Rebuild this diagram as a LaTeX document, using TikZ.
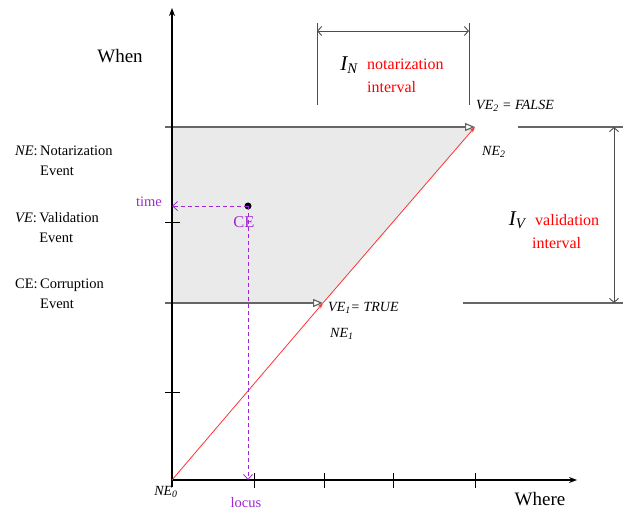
\documentclass[tikz,border=0pt]{standalone}
\usepackage{fontspec}
\setmainfont{Liberation Serif}
\usetikzlibrary{arrows.meta, positioning}

\definecolor{cepurple}{RGB}{160,40,210}
\definecolor{regiongray}{RGB}{234,234,234}

\begin{document}
\begin{tikzpicture}[
    x=1pt, y=-1pt,
    >=Stealth,
    axis/.style={draw=black, line width=1.3pt, -{Stealth[length=8pt, width=6pt]}},
    tickmark/.style={draw=black, line width=0.8pt},
    level/.style={draw=black!60, line width=1.2pt},
    opentip/.style={-{Triangle[open, length=10pt, width=8pt, fill=white]}},
    dim/.style={draw=black!70, line width=0.9pt, {Straight Barb[length=4pt, width=9pt]}-{Straight Barb[length=4pt, width=9pt]}},
    trace/.style={draw=red!80, line width=0.8pt, -{Stealth[length=6pt, width=4pt]}},
    probe/.style={draw=cepurple, line width=0.8pt, dash pattern=on 4pt off 3pt, -{Straight Barb[length=5pt, width=9pt]}},
    lbl/.style={font=\fontsize{14}{16}\selectfont\itshape, inner sep=0pt, anchor=west},
    legend/.style={font=\fontsize{14.5}{20}\selectfont, inner sep=0pt, anchor=north west},
    note/.style={font=\fontsize{16}{23}\selectfont, text=red, align=left, inner sep=0pt, anchor=west},
    big/.style={font=\fontsize{21}{24}\selectfont\itshape, inner sep=0pt}
]
\useasboundingbox (0,0) rectangle (623,510);

% Points
\coordinate (ne0) at (172,480);
\coordinate (ne1) at (323,303);
\coordinate (ne2) at (475,127);
\coordinate (ce) at (248,206);
\coordinate (yaxis) at (172,8);
\coordinate (xaxis) at (577,480);

% Region between the two levels
\fill[regiongray] (172,127) -- (ne2) -- (ne1) -- (172,303) -- cycle;

% Levels
\draw[level, opentip] (165,127) -- (ne2);
\draw[level, opentip] (165,303) -- (ne1);
\draw[level] (518,127) -- (623,127);
\draw[level] (463,303) -- (623,303);

% Axes
\draw[axis] (172,487) -- (yaxis);
\draw[axis] (ne0) -- (xaxis);
\foreach \y in {222,392} \draw[tickmark] (165,\y) -- (180,\y);
\foreach \x in {254,324,393,475} \draw[tickmark] (\x,473) -- (\x,488);

% Notarization path
\draw[trace] (ne0) -- (ne1);
\draw[trace] (ne1) -- (ne2);

% Corruption event
\fill (ce) circle (3.5pt);
\draw[probe] (ce) -- (ce -| ne0);
\draw[probe] (ce) -- (ce |- ne0);

% Intervals
\draw[dim, -] (317,23) -- (317,105);
\draw[dim, -] (469,23) -- (469,105);
\draw[dim] (317,31) -- (469,31);
\draw[dim] (614,127) -- (614,303);

% Labels
\node[font=\fontsize{19}{22}\selectfont] (when) at (120,56) {When};
\node[font=\fontsize{19}{22}\selectfont] (where) at (540,499) {Where};
\node[lbl, anchor=center] (ne0lbl) at (166,492) {NE\textsubscript{0}};
\node[lbl] (ve1) at (328,308) {VE\textsubscript{1}= TRUE};
\node[lbl] (ne1lbl) at (330,334) {NE\textsubscript{1}};
\node[lbl] (ve2) at (476,106) {VE\textsubscript{2} = FALSE};
\node[lbl] (ne2lbl) at (482,152) {NE\textsubscript{2}};
\node[font=\fontsize{14.5}{16}\selectfont, text=cepurple] (time) at (149,202) {time};
\node[font=\fontsize{14.5}{16}\selectfont, text=cepurple] (locus) at (246,503) {locus};
\node[font=\fontsize{16.5}{18}\selectfont, text=cepurple] (celbl) at (244,222) {CE};

\node[big] (in) at (349,65) {I\textsubscript{N}};
\node[note] (inote) at (367,76) {notarization\\interval};
\node[big] (iv) at (517,220) {I\textsubscript{V}};
\node[note] (ivnote) at (532,232) {\hspace*{3pt}validation\\interval};

% Legend
\node[legend] (legne) at (15,141) {\begin{tabular}{@{}r@{\,}l@{}}\textit{NE}: & Notarization\\ & Event\end{tabular}};
\node[legend] (legve) at (15,208) {\begin{tabular}{@{}r@{\,}l@{}}\textit{VE}: & Validation\\ & Event\end{tabular}};
\node[legend] (legce) at (15,274) {\begin{tabular}{@{}r@{\,}l@{}}CE: & Corruption\\ & Event\end{tabular}};

\end{tikzpicture}
\end{document}
